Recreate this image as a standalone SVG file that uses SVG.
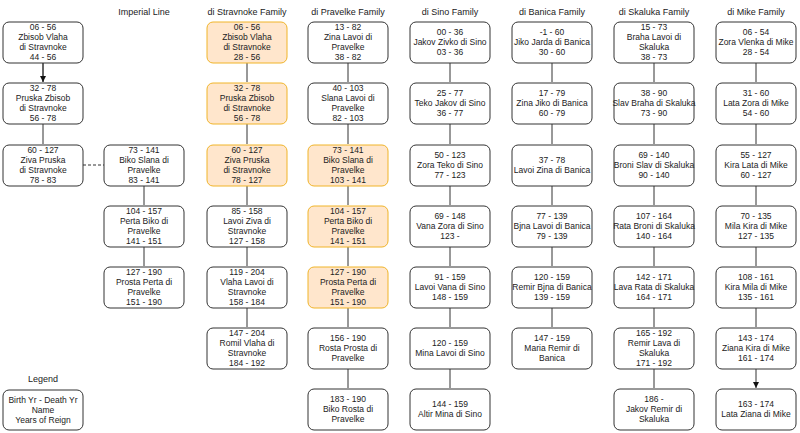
<svg xmlns="http://www.w3.org/2000/svg" width="800" height="433" viewBox="0 0 800 433">
<style>
text{font-family:"Liberation Sans",Arial,sans-serif;font-size:8.5px;fill:#222;text-anchor:middle}
.b{fill:#fff;stroke:#333;stroke-width:1}
.o{fill:#ffe6cc;stroke:#f0b429;stroke-width:1}
.c{stroke:#333;stroke-width:1;fill:none}
.t{font-size:9px}
</style>
<defs><marker id="a" viewBox="0 0 6 6" refX="6" refY="3" markerWidth="6" markerHeight="6" orient="auto"><path d="M0,0L6,3L0,6z" fill="#111"/></marker></defs>
<rect width="800" height="433" fill="#fff"/>
<g id="titles" class="t">
<text x="144" y="15" class="t">Imperial Line</text>
<text x="247" y="15" class="t">di Stravnoke Family</text>
<text x="348" y="15" class="t">di Pravelke Family</text>
<text x="450" y="15" class="t">di Sino Family</text>
<text x="552" y="15" class="t">di Banica Family</text>
<text x="654" y="15" class="t">di Skaluka Family</text>
<text x="756" y="15" class="t">di Mike Family</text>
<text x="43" y="382" class="t">Legend</text>
</g>
<g id="connectors">
<path class="c" d="M43,63V82M43,124V144M144,186V205M144,247V266M247,63V82M247,124V144M247,186V205M247,247V266M247,308V327M348,63V82M348,124V144M348,186V205M348,247V266M348,308V327M348,369V388M450,63V82M450,124V144M450,186V205M450,247V266M450,308V327M450,369V388M552,63V82M552,124V144M552,186V205M552,247V266M552,308V327M654,63V82M654,124V144M654,186V205M654,247V266M654,308V327M654,369V388M756,63V82M756,124V144M756,186V205M756,247V266M756,308V327M756,369V388" marker-end="url(#a)"/>
<path d="M43,63V82" class="c" marker-end="url(#a)"/>
<line x1="83" y1="165" x2="104" y2="165" class="c" stroke-dasharray="3,2"/>
</g>
<g id="imp1"><rect class="b" x="3" y="22" width="80" height="41" rx="6"/><text x="43" y="30">06 - 56<tspan x="43" dy="10">Zbisob Vlaha</tspan><tspan x="43" dy="10">di Stravnoke</tspan><tspan x="43" dy="10">44 - 56</tspan></text></g>
<g id="imp2"><rect class="b" x="3" y="83" width="80" height="41" rx="6"/><text x="43" y="91">32 - 78<tspan x="43" dy="10">Pruska Zbisob</tspan><tspan x="43" dy="10">di Stravnoke</tspan><tspan x="43" dy="10">56 - 78</tspan></text></g>
<g id="imp3"><rect class="b" x="3" y="145" width="80" height="41" rx="6"/><text x="43" y="153">60 - 127<tspan x="43" dy="10">Ziva Pruska</tspan><tspan x="43" dy="10">di Stravnoke</tspan><tspan x="43" dy="10">78 - 83</tspan></text></g>
<g id="imp4"><rect class="b" x="104" y="145" width="80" height="41" rx="6"/><text x="144" y="153">73 - 141<tspan x="144" dy="10">Biko Slana di</tspan><tspan x="144" dy="10">Pravelke</tspan><tspan x="144" dy="10">83 - 141</tspan></text></g>
<g id="imp5"><rect class="b" x="104" y="206" width="80" height="41" rx="6"/><text x="144" y="214">104 - 157<tspan x="144" dy="10">Perta Biko di</tspan><tspan x="144" dy="10">Pravelke</tspan><tspan x="144" dy="10">141 - 151</tspan></text></g>
<g id="imp6"><rect class="b" x="104" y="267" width="80" height="41" rx="6"/><text x="144" y="275">127 - 190<tspan x="144" dy="10">Prosta Perta di</tspan><tspan x="144" dy="10">Pravelke</tspan><tspan x="144" dy="10">151 - 190</tspan></text></g>
<g id="legend"><rect class="b" x="3" y="390" width="80" height="40" rx="6"/><text x="43" y="403">Birth Yr - Death Yr<tspan x="43" dy="10">Name</tspan><tspan x="43" dy="10">Years of Reign</tspan></text></g>
<g id="st1"><rect class="o" x="207" y="22" width="80" height="41" rx="6"/><text x="247" y="30">06 - 56<tspan x="247" dy="10">Zbisob Vlaha</tspan><tspan x="247" dy="10">di Stravnoke</tspan><tspan x="247" dy="10">28 - 56</tspan></text></g>
<g id="st2"><rect class="o" x="207" y="83" width="80" height="41" rx="6"/><text x="247" y="91">32 - 78<tspan x="247" dy="10">Pruska Zbisob</tspan><tspan x="247" dy="10">di Stravnoke</tspan><tspan x="247" dy="10">56 - 78</tspan></text></g>
<g id="st3"><rect class="o" x="207" y="145" width="80" height="41" rx="6"/><text x="247" y="153">60 - 127<tspan x="247" dy="10">Ziva Pruska</tspan><tspan x="247" dy="10">di Stravnoke</tspan><tspan x="247" dy="10">78 - 127</tspan></text></g>
<g id="st4"><rect class="b" x="207" y="206" width="80" height="41" rx="6"/><text x="247" y="214">85 - 158<tspan x="247" dy="10">Lavoi Ziva di</tspan><tspan x="247" dy="10">Stravnoke</tspan><tspan x="247" dy="10">127 - 158</tspan></text></g>
<g id="st5"><rect class="b" x="207" y="267" width="80" height="41" rx="6"/><text x="247" y="275">119 - 204<tspan x="247" dy="10">Vlaha Lavoi di</tspan><tspan x="247" dy="10">Stravnoke</tspan><tspan x="247" dy="10">158 - 184</tspan></text></g>
<g id="st6"><rect class="b" x="207" y="328" width="80" height="41" rx="6"/><text x="247" y="336">147 - 204<tspan x="247" dy="10">Romil Vlaha di</tspan><tspan x="247" dy="10">Stravnoke</tspan><tspan x="247" dy="10">184 - 192</tspan></text></g>
<g id="pr1"><rect class="b" x="308" y="22" width="80" height="41" rx="6"/><text x="348" y="30">13 - 82<tspan x="348" dy="10">Zina Lavoi di</tspan><tspan x="348" dy="10">Pravelke</tspan><tspan x="348" dy="10">38 - 82</tspan></text></g>
<g id="pr2"><rect class="b" x="308" y="83" width="80" height="41" rx="6"/><text x="348" y="91">40 - 103<tspan x="348" dy="10">Slana Lavoi di</tspan><tspan x="348" dy="10">Pravelke</tspan><tspan x="348" dy="10">82 - 103</tspan></text></g>
<g id="pr3"><rect class="o" x="308" y="145" width="80" height="41" rx="6"/><text x="348" y="153">73 - 141<tspan x="348" dy="10">Biko Slana di</tspan><tspan x="348" dy="10">Pravelke</tspan><tspan x="348" dy="10">103 - 141</tspan></text></g>
<g id="pr4"><rect class="o" x="308" y="206" width="80" height="41" rx="6"/><text x="348" y="214">104 - 157<tspan x="348" dy="10">Perta Biko di</tspan><tspan x="348" dy="10">Pravelke</tspan><tspan x="348" dy="10">141 - 151</tspan></text></g>
<g id="pr5"><rect class="o" x="308" y="267" width="80" height="41" rx="6"/><text x="348" y="275">127 - 190<tspan x="348" dy="10">Prosta Perta di</tspan><tspan x="348" dy="10">Pravelke</tspan><tspan x="348" dy="10">151 - 190</tspan></text></g>
<g id="pr6"><rect class="b" x="308" y="328" width="80" height="41" rx="6"/><text x="348" y="341">156 - 190<tspan x="348" dy="10">Rosta Prosta di</tspan><tspan x="348" dy="10">Pravelke</tspan></text></g>
<g id="pr7"><rect class="b" x="308" y="389" width="80" height="41" rx="6"/><text x="348" y="402">183 - 190<tspan x="348" dy="10">Biko Rosta di</tspan><tspan x="348" dy="10">Pravelke</tspan></text></g>
<g id="si1"><rect class="b" x="410" y="22" width="80" height="41" rx="6"/><text x="450" y="35">00 - 36<tspan x="450" dy="10">Jakov Zivko di Sino</tspan><tspan x="450" dy="10">03 - 36</tspan></text></g>
<g id="si2"><rect class="b" x="410" y="83" width="80" height="41" rx="6"/><text x="450" y="96">25 - 77<tspan x="450" dy="10">Teko Jakov di Sino</tspan><tspan x="450" dy="10">36 - 77</tspan></text></g>
<g id="si3"><rect class="b" x="410" y="145" width="80" height="41" rx="6"/><text x="450" y="158">50 - 123<tspan x="450" dy="10">Zora Teko di Sino</tspan><tspan x="450" dy="10">77 - 123</tspan></text></g>
<g id="si4"><rect class="b" x="410" y="206" width="80" height="41" rx="6"/><text x="450" y="219">69 - 148<tspan x="450" dy="10">Vana Zora di Sino</tspan><tspan x="450" dy="10">123 -</tspan></text></g>
<g id="si5"><rect class="b" x="410" y="267" width="80" height="41" rx="6"/><text x="450" y="280">91 - 159<tspan x="450" dy="10">Lavoi Vana di Sino</tspan><tspan x="450" dy="10">148 - 159</tspan></text></g>
<g id="si6"><rect class="b" x="410" y="328" width="80" height="41" rx="6"/><text x="450" y="346">120 - 159<tspan x="450" dy="10">Mina Lavoi di Sino</tspan></text></g>
<g id="si7"><rect class="b" x="410" y="389" width="80" height="41" rx="6"/><text x="450" y="407">144 - 159<tspan x="450" dy="10">Altir Mina di Sino</tspan></text></g>
<g id="ba1"><rect class="b" x="512" y="22" width="80" height="41" rx="6"/><text x="552" y="35">-1 - 60<tspan x="552" dy="10">Jiko Jarda di Banica</tspan><tspan x="552" dy="10">30 - 60</tspan></text></g>
<g id="ba2"><rect class="b" x="512" y="83" width="80" height="41" rx="6"/><text x="552" y="96">17 - 79<tspan x="552" dy="10">Zina Jiko di Banica</tspan><tspan x="552" dy="10">60 - 79</tspan></text></g>
<g id="ba3"><rect class="b" x="512" y="145" width="80" height="41" rx="6"/><text x="552" y="163">37 - 78<tspan x="552" dy="10">Lavoi Zina di Banica</tspan></text></g>
<g id="ba4"><rect class="b" x="512" y="206" width="80" height="41" rx="6"/><text x="552" y="219">77 - 139<tspan x="552" dy="10">Bjna Lavoi di Banica</tspan><tspan x="552" dy="10">79 - 139</tspan></text></g>
<g id="ba5"><rect class="b" x="512" y="267" width="80" height="41" rx="6"/><text x="552" y="280">120 - 159<tspan x="552" dy="10">Remir Bjna di Banica</tspan><tspan x="552" dy="10">139 - 159</tspan></text></g>
<g id="ba6"><rect class="b" x="512" y="328" width="80" height="41" rx="6"/><text x="552" y="341">147 - 159<tspan x="552" dy="10">Maria Remir di</tspan><tspan x="552" dy="10">Banica</tspan></text></g>
<g id="sk1"><rect class="b" x="614" y="22" width="80" height="41" rx="6"/><text x="654" y="30">15 - 73<tspan x="654" dy="10">Braha Lavoi di</tspan><tspan x="654" dy="10">Skaluka</tspan><tspan x="654" dy="10">38 - 73</tspan></text></g>
<g id="sk2"><rect class="b" x="614" y="83" width="80" height="41" rx="6"/><text x="654" y="96">38 - 90<tspan x="654" dy="10">Slav Braha di Skaluka</tspan><tspan x="654" dy="10">73 - 90</tspan></text></g>
<g id="sk3"><rect class="b" x="614" y="145" width="80" height="41" rx="6"/><text x="654" y="158">69 - 140<tspan x="654" dy="10">Broni Slav di Skaluka</tspan><tspan x="654" dy="10">90 - 140</tspan></text></g>
<g id="sk4"><rect class="b" x="614" y="206" width="80" height="41" rx="6"/><text x="654" y="219">107 - 164<tspan x="654" dy="10">Rata Broni di Skaluka</tspan><tspan x="654" dy="10">140 - 164</tspan></text></g>
<g id="sk5"><rect class="b" x="614" y="267" width="80" height="41" rx="6"/><text x="654" y="280">142 - 171<tspan x="654" dy="10">Lava Rata di Skaluka</tspan><tspan x="654" dy="10">164 - 171</tspan></text></g>
<g id="sk6"><rect class="b" x="614" y="328" width="80" height="41" rx="6"/><text x="654" y="336">165 - 192<tspan x="654" dy="10">Remir Lava di</tspan><tspan x="654" dy="10">Skaluka</tspan><tspan x="654" dy="10">171 - 192</tspan></text></g>
<g id="sk7"><rect class="b" x="614" y="389" width="80" height="41" rx="6"/><text x="654" y="402">186 -<tspan x="654" dy="10">Jakov Remir di</tspan><tspan x="654" dy="10">Skaluka</tspan></text></g>
<g id="mi1"><rect class="b" x="716" y="22" width="80" height="41" rx="6"/><text x="756" y="35">06 - 54<tspan x="756" dy="10">Zora Vlenka di Mike</tspan><tspan x="756" dy="10">28 - 54</tspan></text></g>
<g id="mi2"><rect class="b" x="716" y="83" width="80" height="41" rx="6"/><text x="756" y="96">31 - 60<tspan x="756" dy="10">Lata Zora di Mike</tspan><tspan x="756" dy="10">54 - 60</tspan></text></g>
<g id="mi3"><rect class="b" x="716" y="145" width="80" height="41" rx="6"/><text x="756" y="158">55  - 127<tspan x="756" dy="10">Kira Lata di Mike</tspan><tspan x="756" dy="10">60 - 127</tspan></text></g>
<g id="mi4"><rect class="b" x="716" y="206" width="80" height="41" rx="6"/><text x="756" y="219">70 - 135<tspan x="756" dy="10">Mila Kira di Mike</tspan><tspan x="756" dy="10">127 - 135</tspan></text></g>
<g id="mi5"><rect class="b" x="716" y="267" width="80" height="41" rx="6"/><text x="756" y="280">108 - 161<tspan x="756" dy="10">Kira Mila di Mike</tspan><tspan x="756" dy="10">135 - 161</tspan></text></g>
<g id="mi6"><rect class="b" x="716" y="328" width="80" height="41" rx="6"/><text x="756" y="341">143 - 174<tspan x="756" dy="10">Ziana Kira di Mike</tspan><tspan x="756" dy="10">161 - 174</tspan></text></g>
<g id="mi7"><rect class="b" x="716" y="389" width="80" height="41" rx="6"/><text x="756" y="407">163 - 174<tspan x="756" dy="10">Lata Ziana di Mike</tspan></text></g>
</svg>
